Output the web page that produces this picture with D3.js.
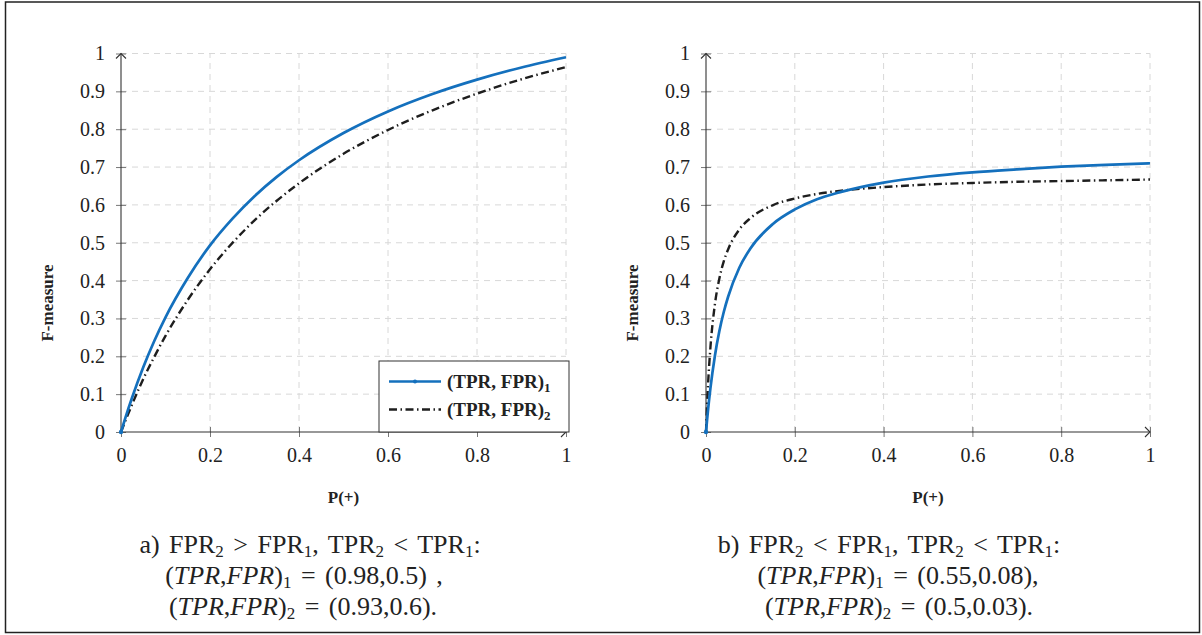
<!DOCTYPE html>
<html>
<head>
<meta charset="utf-8">
<script src="https://cdn.jsdelivr.net/npm/d3@7"></script>
<style>
  html, body { margin: 0; padding: 0; background: #fff; }
  svg { display: block; }
  text { font-family: "Liberation Serif", "Times New Roman", serif; fill: #222; }
</style>
</head>
<body>
<svg id="chart" width="1202" height="635"></svg>
<script>
// ---------- data ----------
const pA = [0, 0.01, 0.025, 0.05, 0.075, 0.1, 0.15, 0.2, 0.25, 0.3, 0.35, 0.4, 0.5, 0.6, 0.7, 0.8, 0.9, 1.0];
const fA1 = [0, 0.038, 0.091, 0.171, 0.241, 0.303, 0.407, 0.493, 0.563, 0.623, 0.674, 0.718, 0.790, 0.847, 0.893, 0.931, 0.963, 0.990];
const fA2 = [0, 0.030, 0.073, 0.140, 0.199, 0.254, 0.349, 0.430, 0.499, 0.559, 0.611, 0.657, 0.735, 0.798, 0.850, 0.894, 0.932, 0.964];

const pB = [0, 0.0025, 0.005, 0.01, 0.02, 0.03, 0.04, 0.05, 0.075, 0.1, 0.15, 0.2, 0.25, 0.3, 0.4, 0.5, 0.6, 0.7, 0.8, 0.9, 1.0];
const fB1 = [0, 0.033, 0.063, 0.116, 0.201, 0.266, 0.317, 0.358, 0.434, 0.485, 0.549, 0.588, 0.615, 0.633, 0.659, 0.675, 0.686, 0.694, 0.701, 0.706, 0.710];
const fB2 = [0, 0.074, 0.134, 0.224, 0.337, 0.405, 0.451, 0.483, 0.535, 0.565, 0.599, 0.617, 0.629, 0.637, 0.647, 0.654, 0.658, 0.661, 0.663, 0.665, 0.667];

const xTicks = [0, 0.2, 0.4, 0.6, 0.8, 1];
const yTicks = [0, 0.1, 0.2, 0.3, 0.4, 0.5, 0.6, 0.7, 0.8, 0.9, 1];
const seriesNames = ["(TPR, FPR)", "(TPR, FPR)"];
const seriesSubs = ["1", "2"];
const xLabel = "P(+)";
const yLabel = "F-measure";

const captionA = [
  [{t:"a) FPR"},{t:"2",sub:true},{t:" > FPR"},{t:"1",sub:true},{t:", TPR"},{t:"2",sub:true},{t:" < TPR"},{t:"1",sub:true},{t:":"}],
  [{t:"(",},{t:"TPR",it:true},{t:","},{t:"FPR",it:true},{t:")"},{t:"1",sub:true},{t:" = (0.98,0.5) ,"}],
  [{t:"(",},{t:"TPR",it:true},{t:","},{t:"FPR",it:true},{t:")"},{t:"2",sub:true},{t:" = (0.93,0.6)."}]
];
const captionB = [
  [{t:"b) FPR"},{t:"2",sub:true},{t:" < FPR"},{t:"1",sub:true},{t:", TPR"},{t:"2",sub:true},{t:" < TPR"},{t:"1",sub:true},{t:":"}],
  [{t:"(",},{t:"TPR",it:true},{t:","},{t:"FPR",it:true},{t:")"},{t:"1",sub:true},{t:" = (0.55,0.08),"}],
  [{t:"(",},{t:"TPR",it:true},{t:","},{t:"FPR",it:true},{t:")"},{t:"2",sub:true},{t:" = (0.5,0.03)."}]
];

// ---------- drawing ----------
const svg = d3.select("#chart");
const BLUE = "#1470bd", DARK = "#1e1e1e";

svg.append("rect").attr("x", 5.5).attr("y", 2).attr("width", 1194).attr("height", 630.5)
  .attr("fill", "none").attr("stroke", "#222").attr("stroke-width", 1.5);

function panel(x0, x1, p, f1, f2, showLegend, caption, capCenters) {
  const x = d3.scaleLinear().domain([0, 1]).range([x0, x1]);
  const y = d3.scaleLinear().domain([0, 1]).range([432, 53.5]);
  const g = svg.append("g");

  // grid
  g.selectAll(".gx").data(xTicks.filter(d => d > 0)).join("line")
    .attr("x1", d => x(d)).attr("x2", d => x(d)).attr("y1", y(0)).attr("y2", y(1))
    .attr("stroke", "#d8d8d8").attr("stroke-width", 1).attr("stroke-dasharray", "6,5");
  g.selectAll(".gy").data(yTicks.filter(d => d > 0)).join("line")
    .attr("x1", x(0)).attr("x2", x(1)).attr("y1", d => y(d)).attr("y2", d => y(d))
    .attr("stroke", "#d8d8d8").attr("stroke-width", 1).attr("stroke-dasharray", "6,5");

  // axes via d3
  const fmt = d => String(+d.toFixed(1));
  const xa = g.append("g").attr("transform", `translate(0,${y(0)})`)
    .call(d3.axisBottom(x).tickValues(xTicks).tickFormat(fmt).tickSize(5).tickPadding(11));
  const ya = g.append("g").attr("transform", `translate(${x(0)},0)`)
    .call(d3.axisLeft(y).tickValues(yTicks).tickFormat(fmt).tickSize(5).tickPadding(11));
  [xa, ya].forEach(a => {
    a.select(".domain").remove();
    a.selectAll(".tick line").attr("stroke", "#777").attr("stroke-width", 1);
    a.selectAll("text").attr("font-size", 20).attr("fill", "#222")
      .style("font-family", '"Liberation Serif", serif');
  });
  xa.selectAll(".tick line").attr("y1", -5);
  ya.selectAll(".tick line").attr("x1", 5);

  // axis lines with arrows
  g.append("line").attr("x1", x(0)).attr("x2", x(1)).attr("y1", y(0)).attr("y2", y(0))
    .attr("stroke", "#333").attr("stroke-width", 1.1);
  g.append("line").attr("x1", x(0)).attr("x2", x(0)).attr("y1", y(0)).attr("y2", y(1))
    .attr("stroke", "#333").attr("stroke-width", 1.1);
  g.append("path").attr("d", `M${x(1)-5},${y(0)-5}L${x(1)},${y(0)}L${x(1)-5},${y(0)+5}`)
    .attr("fill", "none").attr("stroke", "#333").attr("stroke-width", 1.1);
  g.append("path").attr("d", `M${x(0)-5},${y(1)+5}L${x(0)},${y(1)}L${x(0)+5},${y(1)+5}`)
    .attr("fill", "none").attr("stroke", "#333").attr("stroke-width", 1.1);

  // curves
  const line = d3.line().x(d => x(d[0])).y(d => y(d[1])).curve(d3.curveMonotoneX);
  g.append("path").datum(p.map((v, i) => [v, f2[i]])).attr("d", line)
    .attr("fill", "none").attr("stroke", DARK).attr("stroke-width", 2.4)
    .attr("stroke-dasharray", "8,3.5,1.5,3.5");
  g.append("path").datum(p.map((v, i) => [v, f1[i]])).attr("d", line)
    .attr("fill", "none").attr("stroke", BLUE).attr("stroke-width", 2.7);
  g.append("circle").attr("cx", x(p[0])).attr("cy", y(f1[0])).attr("r", 2.2).attr("fill", BLUE);

  // axis labels
  g.append("text").attr("x", (x0 + x1) / 2).attr("y", 503).attr("text-anchor", "middle")
    .attr("font-size", 17).attr("font-weight", "bold").text(xLabel);
  g.append("text").attr("transform", `translate(${x0 - 68},303) rotate(-90)`)
    .attr("text-anchor", "middle").attr("font-size", 17).attr("font-weight", "bold").text(yLabel);

  // legend
  if (showLegend) {
    const lg = g.append("g");
    lg.append("rect").attr("x", 379).attr("y", 361).attr("width", 190).attr("height", 71)
      .attr("fill", "#fff").attr("stroke", "#333").attr("stroke-width", 1);
    const rows = [381.5, 409.5];
    lg.append("line").attr("x1", 389).attr("x2", 441).attr("y1", rows[0]).attr("y2", rows[0])
      .attr("stroke", BLUE).attr("stroke-width", 2.7);
    lg.append("circle").attr("cx", 415).attr("cy", rows[0]).attr("r", 2).attr("fill", BLUE);
    lg.append("line").attr("x1", 389).attr("x2", 441).attr("y1", rows[1]).attr("y2", rows[1])
      .attr("stroke", DARK).attr("stroke-width", 2.4).attr("stroke-dasharray", "8,3.5,1.5,3.5");
    rows.forEach((ry, i) => {
      const t = lg.append("text").attr("x", 447).attr("y", ry + 6)
        .attr("font-size", 19).attr("font-weight", "bold");
      t.append("tspan").text(seriesNames[i]);
      t.append("tspan").attr("font-size", 13).attr("dy", 4).text(seriesSubs[i]);
    });
  }

  // caption
  const baselines = [553, 584, 615];
  caption.forEach((parts, li) => {
    const t = svg.append("text").attr("x", capCenters[li]).attr("y", baselines[li])
      .attr("text-anchor", "middle").attr("font-size", 26).attr("word-spacing", 3);
    let shifted = false;
    parts.forEach(pt => {
      const ts = t.append("tspan").text(pt.t);
      if (pt.it) ts.attr("font-style", "italic");
      if (pt.sub) { ts.attr("font-size", 17).attr("dy", 4); shifted = true; }
      else if (shifted) { ts.attr("dy", -4); shifted = false; }
    });
  });
}

panel(121, 566, pA, fA1, fA2, true, captionA, [310, 304, 303]);
panel(706, 1150, pB, fB1, fB2, false, captionB, [889, 898, 899]);
</script>
</body>
</html>
